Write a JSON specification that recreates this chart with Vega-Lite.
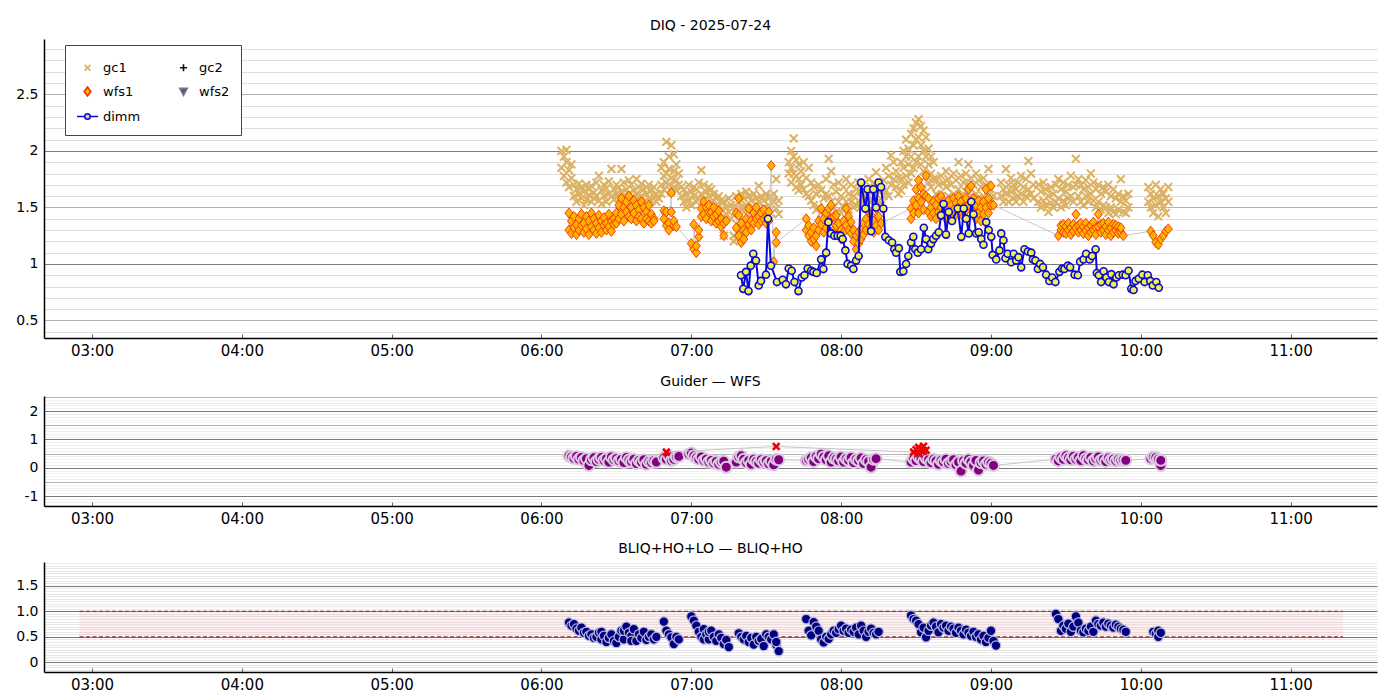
{
"$schema":"https://vega.github.io/schema/vega-lite/v6.json",
"background":"white",
"padding":{"left":5,"right":5,"top":19,"bottom":0},
"config":{"font":"DejaVu Sans","view":{"stroke":null},
 "axis":{"labelFont":"DejaVu Sans","labelFontSize":14,"labelColor":"black","domainColor":"black","domainWidth":1.5},
 "title":{"fontSize":14,"fontWeight":"normal","color":"black","font":"DejaVu Sans","frame":"group","anchor":"middle","offset":6},
 "concat":{"spacing":16}},
"resolve":{"scale":{"x":"independent","y":"independent"}},
"datasets":{
"gc1":[
{"t":"6:08","v":2.0},{"t":"6:08","v":1.85},{"t":"6:09","v":1.95},{"t":"6:09","v":1.78},{"t":"6:10","v":1.9},{"t":"6:10","v":1.72},{"t":"6:10","v":2.01},{"t":"6:11","v":1.83},{"t":"6:11","v":1.68},{"t":"6:12","v":1.76},{"t":"6:12","v":1.88},{"t":"6:13","v":1.7},{"t":"6:13","v":1.6},{"t":"6:14","v":1.66},{"t":"6:14","v":1.55},{"t":"6:15","v":1.62},{"t":"6:15","v":1.71},{"t":"6:16","v":1.58},{"t":"6:16","v":1.68},{"t":"6:17","v":1.64},{"t":"6:17","v":1.52},{"t":"6:18","v":1.7},{"t":"6:18","v":1.57},{"t":"6:19","v":1.61},{"t":"6:19","v":1.66},{"t":"6:20","v":1.55},{"t":"6:20","v":1.69},{"t":"6:21","v":1.63},{"t":"6:21","v":1.58},{"t":"6:22","v":1.72},{"t":"6:22","v":1.6},{"t":"6:23","v":1.78},{"t":"6:23","v":1.56},{"t":"6:24","v":1.65},{"t":"6:24","v":1.53},{"t":"6:25","v":1.6},{"t":"6:25","v":1.7},{"t":"6:26","v":1.67},{"t":"6:26","v":1.55},{"t":"6:27","v":1.73},{"t":"6:27","v":1.62},{"t":"6:28","v":1.84},{"t":"6:28","v":1.6},{"t":"6:29","v":1.66},{"t":"6:29","v":1.57},{"t":"6:30","v":1.62},{"t":"6:30","v":1.7},{"t":"6:31","v":1.68},{"t":"6:31","v":1.58},{"t":"6:32","v":1.84},{"t":"6:32","v":1.64},{"t":"6:33","v":1.72},{"t":"6:33","v":1.6},{"t":"6:34","v":1.66},{"t":"6:34","v":1.56},{"t":"6:35","v":1.62},{"t":"6:35","v":1.74},{"t":"6:36","v":1.7},{"t":"6:36","v":1.59},{"t":"6:37","v":1.65},{"t":"6:37","v":1.55},{"t":"6:38","v":1.75},{"t":"6:38","v":1.62},{"t":"6:39","v":1.68},{"t":"6:39","v":1.58},{"t":"6:40","v":1.6},{"t":"6:40","v":1.71},{"t":"6:41","v":1.66},{"t":"6:41","v":1.55},{"t":"6:42","v":1.62},{"t":"6:42","v":1.68},{"t":"6:43","v":1.58},{"t":"6:43","v":1.7},{"t":"6:44","v":1.65},{"t":"6:44","v":1.56},{"t":"6:45","v":1.6},{"t":"6:45","v":1.68},{"t":"6:46","v":1.62},{"t":"6:46","v":1.55},{"t":"6:47","v":1.58},
{"t":"6:48","v":1.7},{"t":"6:48","v":1.85},{"t":"6:48","v":1.62},{"t":"6:49","v":1.78},{"t":"6:49","v":1.9},{"t":"6:49","v":1.66},{"t":"6:50","v":2.08},{"t":"6:50","v":1.8},{"t":"6:50","v":1.72},{"t":"6:51","v":1.95},{"t":"6:51","v":1.84},{"t":"6:51","v":1.7},{"t":"6:52","v":2.05},{"t":"6:52","v":1.76},{"t":"6:52","v":1.64},{"t":"6:53","v":1.97},{"t":"6:53","v":1.82},{"t":"6:53","v":1.68},{"t":"6:54","v":1.88},{"t":"6:54","v":1.74},{"t":"6:54","v":1.65},{"t":"6:55","v":1.8},{"t":"6:55","v":1.7},
{"t":"6:56","v":1.6},{"t":"6:56","v":1.68},{"t":"6:57","v":1.55},{"t":"6:57","v":1.66},{"t":"6:58","v":1.62},{"t":"6:58","v":1.5},{"t":"6:59","v":1.7},{"t":"6:59","v":1.57},{"t":"7:00","v":1.64},{"t":"7:00","v":1.52},{"t":"7:01","v":1.6},{"t":"7:01","v":1.68},{"t":"7:02","v":1.66},{"t":"7:02","v":1.55},{"t":"7:03","v":1.72},{"t":"7:03","v":1.58},{"t":"7:04","v":1.83},{"t":"7:04","v":1.62},{"t":"7:05","v":1.7},{"t":"7:05","v":1.57},{"t":"7:06","v":1.64},{"t":"7:06","v":1.52},{"t":"7:07","v":1.6},{"t":"7:07","v":1.68},{"t":"7:08","v":1.55},{"t":"7:08","v":1.66},{"t":"7:09","v":1.62},{"t":"7:09","v":1.5},{"t":"7:10","v":1.58},{"t":"7:10","v":1.46},{"t":"7:11","v":1.6},{"t":"7:11","v":1.52},{"t":"7:12","v":1.48},{"t":"7:12","v":1.56},{"t":"7:13","v":1.55},{"t":"7:13","v":1.42},{"t":"7:13","v":1.25},{"t":"7:14","v":1.5},{"t":"7:14","v":1.44},{"t":"7:15","v":1.58},{"t":"7:15","v":1.46},{"t":"7:16","v":1.52},{"t":"7:16","v":1.4},{"t":"7:17","v":1.25},{"t":"7:17","v":1.2},
{"t":"7:18","v":1.5},{"t":"7:18","v":1.6},{"t":"7:18","v":1.22},{"t":"7:19","v":1.55},{"t":"7:19","v":1.45},{"t":"7:20","v":1.62},{"t":"7:20","v":1.5},{"t":"7:21","v":1.58},{"t":"7:21","v":1.46},{"t":"7:22","v":1.52},{"t":"7:22","v":1.64},{"t":"7:23","v":1.6},{"t":"7:23","v":1.48},{"t":"7:24","v":1.56},{"t":"7:24","v":1.44},{"t":"7:25","v":1.62},{"t":"7:25","v":1.5},{"t":"7:26","v":1.58},{"t":"7:26","v":1.52},{"t":"7:27","v":1.69},{"t":"7:27","v":1.55},{"t":"7:28","v":1.6},{"t":"7:28","v":1.47},{"t":"7:29","v":1.56},{"t":"7:29","v":1.5},{"t":"7:30","v":1.62},{"t":"7:30","v":1.46},{"t":"7:31","v":1.58},{"t":"7:31","v":1.52},{"t":"7:32","v":1.6},{"t":"7:32","v":1.45},{"t":"7:33","v":1.55},{"t":"7:33","v":1.62},{"t":"7:34","v":1.75},{"t":"7:34","v":1.49},{"t":"7:35","v":1.56},{"t":"7:35","v":1.44},
{"t":"7:39","v":1.9},{"t":"7:39","v":1.8},{"t":"7:40","v":2.0},{"t":"7:40","v":1.85},{"t":"7:40","v":1.72},{"t":"7:41","v":2.11},{"t":"7:41","v":1.95},{"t":"7:41","v":1.8},{"t":"7:42","v":1.92},{"t":"7:42","v":1.78},{"t":"7:42","v":1.68},{"t":"7:43","v":1.88},{"t":"7:43","v":1.75},{"t":"7:43","v":1.65},{"t":"7:44","v":1.82},{"t":"7:44","v":1.7},{"t":"7:45","v":1.9},{"t":"7:45","v":1.66},{"t":"7:46","v":1.76},{"t":"7:46","v":1.62},{"t":"7:47","v":1.85},{"t":"7:47","v":1.6},{"t":"7:48","v":1.72},{"t":"7:48","v":1.56},{"t":"7:49","v":1.68},{"t":"7:49","v":1.52},{"t":"7:50","v":1.62},{"t":"7:50","v":1.48},{"t":"7:51","v":1.7},{"t":"7:51","v":1.5},{"t":"7:52","v":1.65},{"t":"7:52","v":1.45},{"t":"7:53","v":1.58},{"t":"7:53","v":1.42},{"t":"7:54","v":1.62},{"t":"7:54","v":1.75},{"t":"7:55","v":1.93},{"t":"7:55","v":1.6},{"t":"7:56","v":1.82},{"t":"7:56","v":1.55},{"t":"7:57","v":1.7},{"t":"7:57","v":1.5},{"t":"7:58","v":1.64},{"t":"7:58","v":1.46},{"t":"7:59","v":1.72},{"t":"7:59","v":1.55},{"t":"8:00","v":1.6},{"t":"8:00","v":1.45},{"t":"8:01","v":1.68},{"t":"8:01","v":1.5},{"t":"8:02","v":1.75},{"t":"8:02","v":1.55},{"t":"8:03","v":1.62},{"t":"8:03","v":1.48},
{"t":"8:04","v":1.7},{"t":"8:04","v":1.55},{"t":"8:05","v":1.6},{"t":"8:05","v":1.5},{"t":"8:06","v":1.66},{"t":"8:06","v":1.52},{"t":"8:07","v":1.72},{"t":"8:07","v":1.56},{"t":"8:08","v":1.64},{"t":"8:08","v":1.5},{"t":"8:09","v":1.7},{"t":"8:09","v":1.58},{"t":"8:10","v":1.62},{"t":"8:10","v":1.52},{"t":"8:11","v":1.75},{"t":"8:11","v":1.6},{"t":"8:12","v":1.68},{"t":"8:12","v":1.55},{"t":"8:13","v":1.72},{"t":"8:13","v":1.6},{"t":"8:14","v":1.81},{"t":"8:14","v":1.62},{"t":"8:15","v":1.7},{"t":"8:15","v":1.56},{"t":"8:16","v":1.66},{"t":"8:16","v":1.52},{"t":"8:17","v":1.74},{"t":"8:17","v":1.6},{"t":"8:18","v":1.85},{"t":"8:18","v":1.65},{"t":"8:19","v":1.78},{"t":"8:19","v":1.6},{"t":"8:20","v":1.96},{"t":"8:20","v":1.7},{"t":"8:21","v":1.9},{"t":"8:21","v":1.75},{"t":"8:22","v":1.82},{"t":"8:22","v":1.68},{"t":"8:23","v":1.76},{"t":"8:23","v":1.62},
{"t":"8:24","v":1.75},{"t":"8:24","v":1.9},{"t":"8:24","v":1.65},{"t":"8:25","v":1.85},{"t":"8:25","v":2.0},{"t":"8:25","v":1.7},{"t":"8:26","v":1.95},{"t":"8:26","v":2.1},{"t":"8:26","v":1.78},{"t":"8:27","v":2.02},{"t":"8:27","v":1.88},{"t":"8:27","v":1.72},{"t":"8:28","v":2.15},{"t":"8:28","v":1.95},{"t":"8:28","v":1.8},{"t":"8:29","v":2.2},{"t":"8:29","v":2.05},{"t":"8:29","v":1.85},{"t":"8:30","v":2.25},{"t":"8:30","v":2.1},{"t":"8:30","v":1.9},{"t":"8:31","v":2.28},{"t":"8:31","v":2.12},{"t":"8:31","v":1.95},{"t":"8:32","v":2.22},{"t":"8:32","v":2.05},{"t":"8:32","v":1.88},{"t":"8:33","v":2.18},{"t":"8:33","v":2.0},{"t":"8:33","v":1.82},{"t":"8:34","v":2.12},{"t":"8:34","v":1.95},{"t":"8:34","v":1.78},{"t":"8:35","v":2.02},{"t":"8:35","v":1.88},{"t":"8:35","v":1.72},{"t":"8:36","v":1.95},{"t":"8:36","v":1.8},{"t":"8:36","v":1.68},{"t":"8:37","v":1.9},{"t":"8:37","v":1.75},
{"t":"8:38","v":1.75},{"t":"8:38","v":1.62},{"t":"8:39","v":1.7},{"t":"8:39","v":1.58},{"t":"8:40","v":1.78},{"t":"8:40","v":1.6},{"t":"8:41","v":1.72},{"t":"8:41","v":1.55},{"t":"8:42","v":1.68},{"t":"8:42","v":1.82},{"t":"8:43","v":1.75},{"t":"8:43","v":1.6},{"t":"8:44","v":1.7},{"t":"8:44","v":1.56},{"t":"8:45","v":1.8},{"t":"8:45","v":1.62},{"t":"8:46","v":1.74},{"t":"8:46","v":1.58},{"t":"8:47","v":1.9},{"t":"8:47","v":1.66},{"t":"8:48","v":1.78},{"t":"8:48","v":1.6},{"t":"8:49","v":1.72},{"t":"8:49","v":1.56},{"t":"8:50","v":1.8},{"t":"8:50","v":1.64},{"t":"8:51","v":1.88},{"t":"8:51","v":1.7},{"t":"8:52","v":1.76},{"t":"8:52","v":1.6},{"t":"8:53","v":1.7},{"t":"8:53","v":1.55},{"t":"8:54","v":1.8},{"t":"8:54","v":1.62},{"t":"8:55","v":1.74},{"t":"8:55","v":1.58},{"t":"8:56","v":1.68},{"t":"8:56","v":1.55},{"t":"8:57","v":1.76},{"t":"8:57","v":1.6},{"t":"8:58","v":1.7},{"t":"8:58","v":1.52},{"t":"8:59","v":1.84},{"t":"8:59","v":1.6},{"t":"9:00","v":1.66},{"t":"9:00","v":1.55},{"t":"9:01","v":1.6},
{"t":"9:04","v":1.6},{"t":"9:04","v":1.72},{"t":"9:05","v":1.66},{"t":"9:05","v":1.55},{"t":"9:06","v":1.84},{"t":"9:06","v":1.62},{"t":"9:07","v":1.7},{"t":"9:07","v":1.55},{"t":"9:08","v":1.64},{"t":"9:08","v":1.76},{"t":"9:09","v":1.58},{"t":"9:09","v":1.7},{"t":"9:10","v":1.66},{"t":"9:10","v":1.55},{"t":"9:11","v":1.72},{"t":"9:11","v":1.6},{"t":"9:12","v":1.62},{"t":"9:12","v":1.78},{"t":"9:13","v":1.68},{"t":"9:13","v":1.55},{"t":"9:14","v":1.75},{"t":"9:14","v":1.6},{"t":"9:15","v":1.91},{"t":"9:15","v":1.66},{"t":"9:16","v":1.8},{"t":"9:16","v":1.62},{"t":"9:17","v":1.7},{"t":"9:17","v":1.58},
{"t":"9:19","v":1.7},{"t":"9:19","v":1.55},{"t":"9:20","v":1.64},{"t":"9:20","v":1.5},{"t":"9:21","v":1.72},{"t":"9:21","v":1.56},{"t":"9:22","v":1.66},{"t":"9:22","v":1.52},{"t":"9:23","v":1.6},{"t":"9:23","v":1.46},{"t":"9:24","v":1.68},{"t":"9:24","v":1.54},{"t":"9:25","v":1.62},{"t":"9:25","v":1.5},{"t":"9:26","v":1.7},{"t":"9:26","v":1.55},{"t":"9:27","v":1.75},{"t":"9:27","v":1.58},{"t":"9:28","v":1.66},{"t":"9:28","v":1.5},{"t":"9:29","v":1.72},{"t":"9:29","v":1.56},{"t":"9:30","v":1.64},{"t":"9:30","v":1.52},{"t":"9:31","v":1.7},{"t":"9:31","v":1.58},{"t":"9:32","v":1.78},{"t":"9:32","v":1.6},{"t":"9:33","v":1.68},{"t":"9:33","v":1.55},{"t":"9:34","v":1.93},{"t":"9:34","v":1.7},{"t":"9:35","v":1.75},{"t":"9:35","v":1.6},{"t":"9:36","v":1.7},{"t":"9:36","v":1.55},{"t":"9:37","v":1.66},{"t":"9:37","v":1.52},{"t":"9:38","v":1.74},{"t":"9:38","v":1.6},{"t":"9:39","v":1.68},{"t":"9:39","v":1.55},{"t":"9:40","v":1.8},{"t":"9:40","v":1.62},{"t":"9:41","v":1.72},{"t":"9:41","v":1.56},{"t":"9:42","v":1.66},{"t":"9:42","v":1.5},{"t":"9:43","v":1.7},{"t":"9:43","v":1.55},{"t":"9:44","v":1.62},{"t":"9:44","v":1.48},{"t":"9:45","v":1.68},{"t":"9:45","v":1.52},{"t":"9:46","v":1.64},{"t":"9:46","v":1.5},{"t":"9:47","v":1.7},{"t":"9:47","v":1.45},{"t":"9:48","v":1.6},{"t":"9:48","v":1.5},{"t":"9:49","v":1.66},{"t":"9:49","v":1.46},{"t":"9:50","v":1.58},{"t":"9:50","v":1.44},{"t":"9:51","v":1.62},{"t":"9:51","v":1.48},{"t":"9:52","v":1.75},{"t":"9:52","v":1.55},{"t":"9:53","v":1.6},{"t":"9:53","v":1.46},{"t":"9:54","v":1.56},{"t":"9:54","v":1.45},{"t":"9:55","v":1.62},{"t":"9:55","v":1.5},
{"t":"10:03","v":1.55},{"t":"10:03","v":1.68},{"t":"10:04","v":1.5},{"t":"10:04","v":1.62},{"t":"10:05","v":1.58},{"t":"10:05","v":1.45},{"t":"10:06","v":1.52},{"t":"10:06","v":1.7},{"t":"10:07","v":1.6},{"t":"10:07","v":1.42},{"t":"10:08","v":1.55},{"t":"10:08","v":1.66},{"t":"10:09","v":1.5},{"t":"10:09","v":1.62},{"t":"10:10","v":1.58},{"t":"10:10","v":1.45},{"t":"10:11","v":1.55},{"t":"10:11","v":1.68}
],
"wfs1":[
{"t":"6:11","v":1.45},{"t":"6:11","v":1.3},{"t":"6:12","v":1.38},{"t":"6:12","v":1.27},{"t":"6:13","v":1.42},{"t":"6:13","v":1.32},{"t":"6:14","v":1.35},{"t":"6:14","v":1.26},{"t":"6:15","v":1.4},{"t":"6:15","v":1.3},{"t":"6:16","v":1.44},{"t":"6:16","v":1.34},{"t":"6:17","v":1.36},{"t":"6:17","v":1.28},{"t":"6:18","v":1.42},{"t":"6:18","v":1.31},{"t":"6:19","v":1.38},{"t":"6:19","v":1.26},{"t":"6:20","v":1.45},{"t":"6:20","v":1.33},{"t":"6:21","v":1.4},{"t":"6:21","v":1.3},{"t":"6:22","v":1.36},{"t":"6:22","v":1.27},{"t":"6:23","v":1.43},{"t":"6:23","v":1.32},{"t":"6:24","v":1.38},{"t":"6:24","v":1.28},{"t":"6:25","v":1.41},{"t":"6:25","v":1.34},{"t":"6:26","v":1.36},{"t":"6:26","v":1.3},{"t":"6:27","v":1.44},{"t":"6:27","v":1.33},{"t":"6:28","v":1.38},{"t":"6:28","v":1.29},{"t":"6:29","v":1.4},{"t":"6:29","v":1.35},
{"t":"6:30","v":1.45},{"t":"6:30","v":1.36},{"t":"6:31","v":1.52},{"t":"6:31","v":1.4},{"t":"6:32","v":1.58},{"t":"6:32","v":1.44},{"t":"6:33","v":1.5},{"t":"6:33","v":1.38},{"t":"6:34","v":1.55},{"t":"6:34","v":1.46},{"t":"6:35","v":1.6},{"t":"6:35","v":1.42},{"t":"6:36","v":1.5},{"t":"6:36","v":1.4},{"t":"6:37","v":1.56},{"t":"6:37","v":1.45},{"t":"6:38","v":1.52},{"t":"6:38","v":1.38},{"t":"6:39","v":1.48},{"t":"6:39","v":1.42},{"t":"6:40","v":1.55},{"t":"6:40","v":1.4},{"t":"6:41","v":1.5},{"t":"6:41","v":1.36},{"t":"6:42","v":1.46},{"t":"6:42","v":1.4},{"t":"6:43","v":1.52},{"t":"6:43","v":1.38},{"t":"6:44","v":1.44},{"t":"6:44","v":1.36},{"t":"6:45","v":1.4},{"t":"6:45","v":1.38},
{"t":"6:49","v":1.47},{"t":"6:49","v":1.4},{"t":"6:50","v":1.34},{"t":"6:50","v":1.46},{"t":"6:51","v":1.36},{"t":"6:51","v":1.3},{"t":"6:52","v":1.63},{"t":"6:52","v":1.46},{"t":"6:53","v":1.34},{"t":"6:53","v":1.38},{"t":"6:54","v":1.33},
{"t":"7:00","v":1.18},{"t":"7:01","v":1.13},{"t":"7:01","v":1.35},{"t":"7:02","v":1.1},{"t":"7:02","v":1.16},{"t":"7:03","v":1.24},{"t":"7:03","v":1.3},{"t":"7:04","v":1.42},{"t":"7:04","v":1.49},{"t":"7:05","v":1.55},{"t":"7:05","v":1.44},{"t":"7:06","v":1.5},{"t":"7:06","v":1.4},{"t":"7:07","v":1.46},{"t":"7:07","v":1.52},{"t":"7:08","v":1.46},{"t":"7:08","v":1.38},{"t":"7:09","v":1.42},{"t":"7:09","v":1.5},{"t":"7:10","v":1.44},{"t":"7:10","v":1.36},{"t":"7:11","v":1.47},{"t":"7:11","v":1.38},{"t":"7:12","v":1.4},{"t":"7:12","v":1.33},{"t":"7:13","v":1.25},{"t":"7:13","v":1.36},{"t":"7:14","v":1.38},
{"t":"7:18","v":1.45},{"t":"7:18","v":1.32},{"t":"7:19","v":1.58},{"t":"7:19","v":1.43},{"t":"7:19","v":1.25},{"t":"7:20","v":1.36},{"t":"7:20","v":1.19},{"t":"7:21","v":1.3},{"t":"7:21","v":1.22},{"t":"7:22","v":1.4},{"t":"7:22","v":1.28},{"t":"7:23","v":1.49},{"t":"7:23","v":1.35},{"t":"7:24","v":1.38},{"t":"7:24","v":1.3},{"t":"7:25","v":1.45},{"t":"7:25","v":1.36},{"t":"7:26","v":1.5},{"t":"7:26","v":1.4},{"t":"7:27","v":1.35},{"t":"7:27","v":1.42},{"t":"7:28","v":1.45},{"t":"7:28","v":1.38},{"t":"7:29","v":1.4},{"t":"7:29","v":1.48},{"t":"7:30","v":1.42},{"t":"7:30","v":1.36},{"t":"7:31","v":1.46},{"t":"7:31","v":1.38},{"t":"7:32","v":1.87},{"t":"7:33","v":1.02},{"t":"7:34","v":1.28},{"t":"7:34","v":1.19},
{"t":"7:46","v":1.4},{"t":"7:46","v":1.3},{"t":"7:47","v":1.34},{"t":"7:47","v":1.25},{"t":"7:48","v":1.28},{"t":"7:48","v":1.2},{"t":"7:49","v":1.22},{"t":"7:49","v":1.32},{"t":"7:50","v":1.16},{"t":"7:50","v":1.25},{"t":"7:51","v":1.3},{"t":"7:51","v":1.38},{"t":"7:52","v":1.49},{"t":"7:52","v":1.35},{"t":"7:53","v":1.4},{"t":"7:53","v":1.28},{"t":"7:54","v":1.45},{"t":"7:54","v":1.32},{"t":"7:55","v":1.49},{"t":"7:55","v":1.38},{"t":"7:56","v":1.52},{"t":"7:56","v":1.4},{"t":"7:57","v":1.42},{"t":"7:57","v":1.3},{"t":"7:58","v":1.43},{"t":"7:58","v":1.34},{"t":"7:59","v":1.36},{"t":"7:59","v":1.26},{"t":"8:00","v":1.3},{"t":"8:00","v":1.22},{"t":"8:01","v":1.38},{"t":"8:01","v":1.28},{"t":"8:02","v":1.49},{"t":"8:02","v":1.34},{"t":"8:03","v":1.42},{"t":"8:03","v":1.3},{"t":"8:04","v":1.37},{"t":"8:04","v":1.27},{"t":"8:05","v":1.3},{"t":"8:05","v":1.2},{"t":"8:06","v":1.25},{"t":"8:06","v":1.13},{"t":"8:07","v":1.18},{"t":"8:07","v":1.28},{"t":"8:08","v":1.31},{"t":"8:08","v":1.22},{"t":"8:09","v":1.36},{"t":"8:09","v":1.26},{"t":"8:10","v":1.4},{"t":"8:10","v":1.3},{"t":"8:11","v":1.46},{"t":"8:11","v":1.35},{"t":"8:12","v":1.43},{"t":"8:12","v":1.32},{"t":"8:13","v":1.38},{"t":"8:13","v":1.28},{"t":"8:14","v":1.34},{"t":"8:14","v":1.49},{"t":"8:15","v":1.42},{"t":"8:15","v":1.3},{"t":"8:16","v":1.36},
{"t":"8:28","v":1.49},{"t":"8:28","v":1.4},{"t":"8:29","v":1.56},{"t":"8:29","v":1.45},{"t":"8:30","v":1.66},{"t":"8:30","v":1.52},{"t":"8:31","v":1.74},{"t":"8:31","v":1.58},{"t":"8:31","v":1.45},{"t":"8:32","v":1.68},{"t":"8:32","v":1.55},{"t":"8:33","v":1.62},{"t":"8:33","v":1.48},{"t":"8:34","v":1.78},{"t":"8:34","v":1.6},{"t":"8:35","v":1.58},{"t":"8:35","v":1.46},{"t":"8:36","v":1.5},{"t":"8:36","v":1.42},{"t":"8:37","v":1.55},{"t":"8:37","v":1.45},{"t":"8:38","v":1.52},{"t":"8:38","v":1.4},{"t":"8:39","v":1.58},{"t":"8:39","v":1.46},{"t":"8:40","v":1.6},{"t":"8:40","v":1.5},{"t":"8:41","v":1.55},{"t":"8:41","v":1.44},{"t":"8:42","v":1.5},{"t":"8:42","v":1.4},{"t":"8:43","v":1.56},{"t":"8:43","v":1.45},{"t":"8:44","v":1.52},{"t":"8:44","v":1.42},{"t":"8:45","v":1.58},{"t":"8:45","v":1.48},{"t":"8:46","v":1.54},{"t":"8:46","v":1.44},{"t":"8:47","v":1.6},{"t":"8:47","v":1.5},{"t":"8:48","v":1.55},{"t":"8:48","v":1.45},{"t":"8:49","v":1.5},{"t":"8:49","v":1.42},{"t":"8:50","v":1.58},{"t":"8:50","v":1.47},{"t":"8:51","v":1.66},{"t":"8:51","v":1.52},{"t":"8:52","v":1.69},{"t":"8:52","v":1.55},{"t":"8:53","v":1.58},{"t":"8:53","v":1.46},{"t":"8:54","v":1.52},{"t":"8:54","v":1.4},{"t":"8:55","v":1.56},{"t":"8:55","v":1.45},{"t":"8:56","v":1.5},{"t":"8:56","v":1.38},{"t":"8:57","v":1.55},{"t":"8:57","v":1.44},{"t":"8:58","v":1.66},{"t":"8:58","v":1.5},{"t":"8:59","v":1.58},{"t":"8:59","v":1.45},{"t":"9:00","v":1.69},{"t":"9:00","v":1.52},{"t":"9:01","v":1.52},
{"t":"9:27","v":1.25},{"t":"9:28","v":1.3},{"t":"9:28","v":1.34},{"t":"9:29","v":1.28},{"t":"9:29","v":1.35},{"t":"9:30","v":1.33},{"t":"9:30","v":1.27},{"t":"9:31","v":1.36},{"t":"9:31","v":1.3},{"t":"9:32","v":1.32},{"t":"9:32","v":1.26},{"t":"9:33","v":1.35},{"t":"9:33","v":1.29},{"t":"9:34","v":1.44},{"t":"9:34","v":1.32},{"t":"9:35","v":1.34},{"t":"9:35","v":1.28},{"t":"9:36","v":1.3},{"t":"9:36","v":1.36},{"t":"9:37","v":1.33},{"t":"9:37","v":1.27},{"t":"9:38","v":1.36},{"t":"9:38","v":1.3},{"t":"9:39","v":1.32},{"t":"9:39","v":1.25},{"t":"9:40","v":1.34},{"t":"9:40","v":1.28},{"t":"9:41","v":1.37},{"t":"9:41","v":1.3},{"t":"9:42","v":1.32},{"t":"9:42","v":1.26},{"t":"9:43","v":1.44},{"t":"9:43","v":1.33},{"t":"9:44","v":1.35},{"t":"9:44","v":1.28},{"t":"9:45","v":1.3},{"t":"9:45","v":1.36},{"t":"9:46","v":1.33},{"t":"9:46","v":1.26},{"t":"9:47","v":1.37},{"t":"9:47","v":1.3},{"t":"9:48","v":1.32},{"t":"9:48","v":1.25},{"t":"9:49","v":1.35},{"t":"9:49","v":1.28},{"t":"9:50","v":1.3},{"t":"9:50","v":1.34},{"t":"9:51","v":1.33},{"t":"9:51","v":1.27},{"t":"9:52","v":1.28},{"t":"9:52","v":1.32},{"t":"9:53","v":1.25},
{"t":"10:04","v":1.29},{"t":"10:05","v":1.25},{"t":"10:06","v":1.19},{"t":"10:07","v":1.17},{"t":"10:08","v":1.22},{"t":"10:09","v":1.25},{"t":"10:10","v":1.29},{"t":"10:11","v":1.31}
],
"dimm":[
{"t":"7:19:54","v":0.9},{"t":"7:20:48","v":0.78},{"t":"7:21:54","v":0.93},{"t":"7:22:54","v":0.76},{"t":"7:23:48","v":0.985},{"t":"7:24:48","v":1.09},{"t":"7:25:54","v":1.03},{"t":"7:27:00","v":0.81},{"t":"7:27:54","v":0.85},{"t":"7:29:54","v":0.905},{"t":"7:30:42","v":1.4},{"t":"7:31:54","v":0.985},{"t":"7:34:18","v":0.84},{"t":"7:36:36","v":0.86},{"t":"7:37:54","v":0.82},{"t":"7:39:00","v":0.96},{"t":"7:40:12","v":0.94},{"t":"7:41:18","v":0.84},{"t":"7:42:54","v":0.76},{"t":"7:44:12","v":0.88},{"t":"7:45:18","v":0.9},{"t":"7:46:36","v":0.96},{"t":"7:48:00","v":0.94},{"t":"7:48:54","v":0.93},{"t":"7:50:12","v":0.92},{"t":"7:52:00","v":1.04},{"t":"7:52:54","v":0.955},{"t":"7:54:00","v":1.1},{"t":"7:54:54","v":1.37},{"t":"7:56:00","v":1.27},{"t":"7:57:18","v":1.25},{"t":"7:58:36","v":1.25},{"t":"7:59:48","v":1.25},{"t":"8:00:36","v":1.22},{"t":"8:01:42","v":1.12},{"t":"8:02:36","v":1.0},{"t":"8:04:00","v":0.985},{"t":"8:04:54","v":0.956},{"t":"8:06:00","v":1.03},{"t":"8:07:00","v":1.07},{"t":"8:08:00","v":1.72},{"t":"8:09:42","v":1.49},{"t":"8:10:36","v":1.66},{"t":"8:12:00","v":1.29},{"t":"8:12:54","v":1.66},{"t":"8:14:00","v":1.5},{"t":"8:15:00","v":1.72},{"t":"8:16:00","v":1.68},{"t":"8:16:54","v":1.49},{"t":"8:17:42","v":1.24},{"t":"8:19:06","v":1.21},{"t":"8:20:24","v":1.19},{"t":"8:21:18","v":1.13},{"t":"8:22:00","v":1.1},{"t":"8:23:06","v":1.14},{"t":"8:23:42","v":0.93},{"t":"8:24:54","v":0.935},{"t":"8:26:00","v":1.0},{"t":"8:26:54","v":1.07},{"t":"8:28:00","v":1.19},{"t":"8:28:54","v":1.24},{"t":"8:29:42","v":1.13},{"t":"8:30:42","v":1.1},{"t":"8:32:00","v":1.13},{"t":"8:33:06","v":1.32},{"t":"8:34:00","v":1.22},{"t":"8:34:54","v":1.13},{"t":"8:36:00","v":1.18},{"t":"8:36:54","v":1.22},{"t":"8:38:00","v":1.25},{"t":"8:39:06","v":1.28},{"t":"8:40:00","v":1.43},{"t":"8:41:00","v":1.53},{"t":"8:42:00","v":1.26},{"t":"8:43:06","v":1.46},{"t":"8:44:24","v":1.38},{"t":"8:46:42","v":1.49},{"t":"8:48:06","v":1.24},{"t":"8:49:06","v":1.49},{"t":"8:50:06","v":1.4},{"t":"8:51:06","v":1.27},{"t":"8:52:06","v":1.55},{"t":"8:53:00","v":1.44},{"t":"8:54:06","v":1.27},{"t":"8:55:06","v":1.28},{"t":"8:56:06","v":1.22},{"t":"8:57:00","v":1.17},{"t":"8:58:06","v":1.37},{"t":"8:59:06","v":1.3},{"t":"9:00:06","v":1.24},{"t":"9:00:42","v":1.08},{"t":"9:02:06","v":1.04},{"t":"9:03:24","v":1.12},{"t":"9:04:06","v":1.27},{"t":"9:05:00","v":1.21},{"t":"9:05:48","v":1.05},{"t":"9:06:42","v":1.09},{"t":"9:08:06","v":1.015},{"t":"9:09:06","v":1.09},{"t":"9:10:06","v":1.03},{"t":"9:11:00","v":1.06},{"t":"9:12:06","v":0.97},{"t":"9:13:24","v":1.13},{"t":"9:14:48","v":1.11},{"t":"9:16:06","v":1.1},{"t":"9:16:48","v":1.04},{"t":"9:17:48","v":1.03},{"t":"9:18:48","v":0.956},{"t":"9:19:42","v":1.0},{"t":"9:20:48","v":0.97},{"t":"9:22:06","v":0.905},{"t":"9:23:24","v":0.85},{"t":"9:24:30","v":0.88},{"t":"9:25:48","v":0.84},{"t":"9:27:24","v":0.93},{"t":"9:28:30","v":0.96},{"t":"9:29:24","v":0.956},{"t":"9:30:48","v":0.985},{"t":"9:31:42","v":0.97},{"t":"9:33:30","v":0.905},{"t":"9:34:48","v":0.9},{"t":"9:35:42","v":1.02},{"t":"9:37:06","v":1.04},{"t":"9:38:06","v":1.09},{"t":"9:39:30","v":1.04},{"t":"9:40:30","v":1.07},{"t":"9:41:54","v":1.13},{"t":"9:42:24","v":0.92},{"t":"9:43:12","v":0.9},{"t":"9:44:06","v":0.84},{"t":"9:45:06","v":0.935},{"t":"9:46:12","v":0.88},{"t":"9:47:12","v":0.84},{"t":"9:48:12","v":0.91},{"t":"9:49:06","v":0.82},{"t":"9:50:12","v":0.88},{"t":"9:51:12","v":0.9},{"t":"9:52:48","v":0.905},{"t":"9:53:54","v":0.9},{"t":"9:55:06","v":0.94},{"t":"9:56:12","v":0.78},{"t":"9:57:06","v":0.77},{"t":"9:57:54","v":0.85},{"t":"9:59:12","v":0.87},{"t":"10:00:36","v":0.905},{"t":"10:01:30","v":0.84},{"t":"10:02:48","v":0.9},{"t":"10:03:48","v":0.85},{"t":"10:04:48","v":0.81},{"t":"10:06:12","v":0.84},{"t":"10:07:12","v":0.79}
],
"gw":[
{"t":"6:11","v":0.42},{"t":"6:12","v":0.38},{"t":"6:13","v":0.33},{"t":"6:14","v":0.4},{"t":"6:15","v":0.3},{"t":"6:16","v":0.36},{"t":"6:17","v":0.25},{"t":"6:18","v":0.32},{"t":"6:19","v":0.08},{"t":"6:20","v":0.28},{"t":"6:21","v":0.35},{"t":"6:22","v":0.22},{"t":"6:23","v":0.3},{"t":"6:24","v":0.36},{"t":"6:25","v":0.26},{"t":"6:26","v":0.32},{"t":"6:27","v":0.2},{"t":"6:28","v":0.38},{"t":"6:29","v":0.28},{"t":"6:30","v":0.33},{"t":"6:31","v":0.24},{"t":"6:32","v":0.3},{"t":"6:33","v":0.18},{"t":"6:34","v":0.36},{"t":"6:35","v":0.27},{"t":"6:36","v":0.22},{"t":"6:37","v":0.3},{"t":"6:38","v":0.15},{"t":"6:39","v":0.26},{"t":"6:40","v":0.2},{"t":"6:41","v":0.28},{"t":"6:42","v":0.12},{"t":"6:43","v":0.22},{"t":"6:44","v":0.18},{"t":"6:45","v":0.25},{"t":"6:46","v":0.2},
{"t":"6:49","v":0.35},{"t":"6:50","v":0.3},{"t":"6:51","v":0.42},{"t":"6:52","v":0.25},{"t":"6:53","v":0.3},{"t":"6:54","v":0.38},{"t":"6:55","v":0.4},
{"t":"6:59","v":0.48},{"t":"7:00","v":0.52},{"t":"7:01","v":0.42},{"t":"7:02","v":0.35},{"t":"7:03","v":0.3},{"t":"7:04","v":0.38},{"t":"7:05","v":0.25},{"t":"7:06","v":0.3},{"t":"7:07","v":0.2},{"t":"7:08","v":0.26},{"t":"7:09","v":0.16},{"t":"7:10","v":0.22},{"t":"7:11","v":0.12},{"t":"7:12","v":0.2},{"t":"7:13","v":0.23},{"t":"7:14","v":0.02},
{"t":"7:18","v":0.2},{"t":"7:19","v":0.38},{"t":"7:20","v":0.42},{"t":"7:21","v":0.3},{"t":"7:22","v":0.18},{"t":"7:23","v":0.26},{"t":"7:24","v":0.12},{"t":"7:25","v":0.3},{"t":"7:26","v":0.22},{"t":"7:27","v":0.16},{"t":"7:28","v":0.28},{"t":"7:29","v":0.2},{"t":"7:30","v":0.25},{"t":"7:31","v":0.14},{"t":"7:32","v":0.22},{"t":"7:33","v":0.1},{"t":"7:34","v":0.3},{"t":"7:35","v":0.28},
{"t":"7:46","v":0.26},{"t":"7:47","v":0.3},{"t":"7:48","v":0.35},{"t":"7:49","v":0.22},{"t":"7:50","v":0.4},{"t":"7:51","v":0.32},{"t":"7:52","v":0.48},{"t":"7:53","v":0.38},{"t":"7:54","v":0.28},{"t":"7:55","v":0.42},{"t":"7:56","v":0.2},{"t":"7:57","v":0.35},{"t":"7:58","v":0.3},{"t":"7:59","v":0.24},{"t":"8:00","v":0.38},{"t":"8:01","v":0.2},{"t":"8:02","v":0.32},{"t":"8:03","v":0.26},{"t":"8:04","v":0.36},{"t":"8:05","v":0.18},{"t":"8:06","v":0.3},{"t":"8:07","v":0.25},{"t":"8:08","v":0.34},{"t":"8:09","v":0.15},{"t":"8:10","v":0.28},{"t":"8:11","v":0.22},{"t":"8:12","v":0.02},{"t":"8:13","v":0.3},{"t":"8:14","v":0.32},
{"t":"8:28","v":0.2},{"t":"8:29","v":0.32},{"t":"8:30","v":0.25},{"t":"8:31","v":0.38},{"t":"8:32","v":0.3},{"t":"8:33","v":0.22},{"t":"8:34","v":0.34},{"t":"8:35","v":0.28},{"t":"8:36","v":0.18},{"t":"8:37","v":0.3},{"t":"8:38","v":0.24},{"t":"8:39","v":0.12},{"t":"8:40","v":0.26},{"t":"8:41","v":0.2},{"t":"8:42","v":0.3},{"t":"8:43","v":0.15},{"t":"8:44","v":0.22},{"t":"8:45","v":0.28},{"t":"8:46","v":0.1},{"t":"8:47","v":0.2},{"t":"8:48","v":-0.12},{"t":"8:49","v":0.25},{"t":"8:50","v":0.16},{"t":"8:51","v":0.3},{"t":"8:52","v":0.2},{"t":"8:53","v":0.08},{"t":"8:54","v":0.26},{"t":"8:55","v":-0.08},{"t":"8:56","v":0.18},{"t":"8:57","v":0.24},{"t":"8:58","v":0.12},{"t":"8:59","v":0.2},{"t":"9:00","v":0.15},{"t":"9:01","v":0.08},
{"t":"9:26","v":0.3},{"t":"9:27","v":0.24},{"t":"9:28","v":0.36},{"t":"9:29","v":0.3},{"t":"9:30","v":0.42},{"t":"9:31","v":0.34},{"t":"9:32","v":0.28},{"t":"9:33","v":0.4},{"t":"9:34","v":0.3},{"t":"9:35","v":0.36},{"t":"9:36","v":0.25},{"t":"9:37","v":0.42},{"t":"9:38","v":0.32},{"t":"9:39","v":0.28},{"t":"9:40","v":0.36},{"t":"9:41","v":0.24},{"t":"9:42","v":0.32},{"t":"9:43","v":0.38},{"t":"9:44","v":0.26},{"t":"9:45","v":0.3},{"t":"9:46","v":0.22},{"t":"9:47","v":0.34},{"t":"9:48","v":0.27},{"t":"9:49","v":0.3},{"t":"9:50","v":0.24},{"t":"9:51","v":0.3},{"t":"9:52","v":0.26},{"t":"9:53","v":0.28},{"t":"9:54","v":0.26},
{"t":"10:04","v":0.32},{"t":"10:05","v":0.38},{"t":"10:06","v":0.36},{"t":"10:07","v":0.3},{"t":"10:08","v":0.08},{"t":"10:08","v":0.26}
],
"gx":[
{"t":"6:50","v":0.55},{"t":"7:34","v":0.75},{"t":"8:29","v":0.55},{"t":"8:30","v":0.64},{"t":"8:31","v":0.72},{"t":"8:31","v":0.5},{"t":"8:32","v":0.66},{"t":"8:33","v":0.58},{"t":"8:33","v":0.76},{"t":"8:34","v":0.62}
],
"bl":[
{"t":"6:11","v":0.78},{"t":"6:12","v":0.72},{"t":"6:13","v":0.75},{"t":"6:14","v":0.66},{"t":"6:15","v":0.62},{"t":"6:16","v":0.68},{"t":"6:17","v":0.58},{"t":"6:18","v":0.6},{"t":"6:19","v":0.52},{"t":"6:20","v":0.55},{"t":"6:21","v":0.48},{"t":"6:22","v":0.5},{"t":"6:23","v":0.58},{"t":"6:24","v":0.45},{"t":"6:24","v":0.6},{"t":"6:25","v":0.52},{"t":"6:26","v":0.4},{"t":"6:27","v":0.48},{"t":"6:28","v":0.55},{"t":"6:29","v":0.42},{"t":"6:30","v":0.38},{"t":"6:31","v":0.5},{"t":"6:32","v":0.62},{"t":"6:33","v":0.45},{"t":"6:33","v":0.62},{"t":"6:34","v":0.7},{"t":"6:35","v":0.58},{"t":"6:36","v":0.52},{"t":"6:36","v":0.42},{"t":"6:37","v":0.65},{"t":"6:38","v":0.42},{"t":"6:39","v":0.55},{"t":"6:40","v":0.48},{"t":"6:41","v":0.6},{"t":"6:42","v":0.44},{"t":"6:43","v":0.5},{"t":"6:44","v":0.55},{"t":"6:45","v":0.45},{"t":"6:46","v":0.5},
{"t":"6:49","v":0.8},{"t":"6:50","v":0.62},{"t":"6:51","v":0.55},{"t":"6:52","v":0.49},{"t":"6:53","v":0.36},{"t":"6:54","v":0.5},{"t":"6:55","v":0.45},
{"t":"7:00","v":0.9},{"t":"7:01","v":0.82},{"t":"7:02","v":0.72},{"t":"7:03","v":0.6},{"t":"7:04","v":0.5},{"t":"7:05","v":0.65},{"t":"7:05","v":0.45},{"t":"7:06","v":0.55},{"t":"7:07","v":0.45},{"t":"7:07","v":0.6},{"t":"7:08","v":0.62},{"t":"7:09","v":0.5},{"t":"7:10","v":0.42},{"t":"7:11","v":0.55},{"t":"7:12","v":0.48},{"t":"7:13","v":0.36},{"t":"7:14","v":0.44},{"t":"7:15","v":0.3},
{"t":"7:19","v":0.57},{"t":"7:20","v":0.5},{"t":"7:21","v":0.45},{"t":"7:22","v":0.52},{"t":"7:23","v":0.4},{"t":"7:24","v":0.48},{"t":"7:25","v":0.35},{"t":"7:26","v":0.5},{"t":"7:27","v":0.42},{"t":"7:28","v":0.46},{"t":"7:29","v":0.32},{"t":"7:30","v":0.55},{"t":"7:31","v":0.5},{"t":"7:32","v":0.45},{"t":"7:33","v":0.55},{"t":"7:34","v":0.34},{"t":"7:34","v":0.4},{"t":"7:35","v":0.22},
{"t":"7:46","v":0.85},{"t":"7:47","v":0.62},{"t":"7:48","v":0.53},{"t":"7:49","v":0.79},{"t":"7:50","v":0.7},{"t":"7:51","v":0.62},{"t":"7:52","v":0.45},{"t":"7:53","v":0.39},{"t":"7:54","v":0.5},{"t":"7:55","v":0.46},{"t":"7:56","v":0.55},{"t":"7:57","v":0.62},{"t":"7:58","v":0.58},{"t":"7:59","v":0.65},{"t":"8:00","v":0.72},{"t":"8:01","v":0.62},{"t":"8:02","v":0.66},{"t":"8:03","v":0.58},{"t":"8:04","v":0.64},{"t":"8:05","v":0.6},{"t":"8:06","v":0.68},{"t":"8:07","v":0.55},{"t":"8:08","v":0.72},{"t":"8:09","v":0.62},{"t":"8:10","v":0.5},{"t":"8:11","v":0.6},{"t":"8:12","v":0.66},{"t":"8:13","v":0.58},{"t":"8:14","v":0.55},{"t":"8:15","v":0.6},
{"t":"8:28","v":0.92},{"t":"8:29","v":0.85},{"t":"8:30","v":0.82},{"t":"8:31","v":0.75},{"t":"8:32","v":0.59},{"t":"8:33","v":0.68},{"t":"8:34","v":0.49},{"t":"8:35","v":0.62},{"t":"8:36","v":0.72},{"t":"8:37","v":0.78},{"t":"8:38","v":0.7},{"t":"8:39","v":0.59},{"t":"8:40","v":0.75},{"t":"8:41","v":0.68},{"t":"8:42","v":0.72},{"t":"8:43","v":0.62},{"t":"8:44","v":0.7},{"t":"8:45","v":0.66},{"t":"8:46","v":0.58},{"t":"8:47","v":0.68},{"t":"8:48","v":0.62},{"t":"8:49","v":0.55},{"t":"8:50","v":0.64},{"t":"8:51","v":0.58},{"t":"8:52","v":0.52},{"t":"8:53","v":0.6},{"t":"8:54","v":0.5},{"t":"8:55","v":0.55},{"t":"8:56","v":0.45},{"t":"8:57","v":0.52},{"t":"8:58","v":0.4},{"t":"8:59","v":0.48},{"t":"9:00","v":0.62},{"t":"9:01","v":0.42},{"t":"9:02","v":0.33},
{"t":"9:26","v":0.95},{"t":"9:27","v":0.85},{"t":"9:28","v":0.62},{"t":"9:29","v":0.72},{"t":"9:30","v":0.66},{"t":"9:31","v":0.76},{"t":"9:32","v":0.6},{"t":"9:33","v":0.7},{"t":"9:34","v":0.9},{"t":"9:35","v":0.78},{"t":"9:36","v":0.62},{"t":"9:37","v":0.59},{"t":"9:38","v":0.66},{"t":"9:39","v":0.62},{"t":"9:40","v":0.7},{"t":"9:41","v":0.6},{"t":"9:42","v":0.82},{"t":"9:43","v":0.75},{"t":"9:44","v":0.72},{"t":"9:45","v":0.78},{"t":"9:46","v":0.7},{"t":"9:47","v":0.76},{"t":"9:48","v":0.72},{"t":"9:49","v":0.68},{"t":"9:50","v":0.74},{"t":"9:51","v":0.7},{"t":"9:52","v":0.66},{"t":"9:53","v":0.64},{"t":"9:54","v":0.6},
{"t":"10:05","v":0.6},{"t":"10:06","v":0.56},{"t":"10:07","v":0.62},{"t":"10:07","v":0.5},{"t":"10:08","v":0.58}
],
"band":[{"a":"2:55","b":"11:21","lo":0.5,"hi":1.0}],
"thr":[{"a":"2:55","b":"11:21","v":0.5},{"a":"2:55","b":"11:21","v":1.0}],
"leg":[{"s":"gc1","t":"6:00","v":1},{"s":"wfs1","t":"6:00","v":1},{"s":"dimm","t":"6:00","v":1},{"s":"gc2","t":"6:00","v":1},{"s":"wfs2","t":"6:00","v":1}]
},
"vconcat":[
{
 "width":1333,"height":299,
 "title":{"text":"DIQ - 2025-07-24"},
 "encoding":{
  "x":{"field":"t","type":"temporal","scale":{"domain":[{"year":1900,"month":1,"date":1,"hours":2,"minutes":40,"seconds":47},{"year":1900,"month":1,"date":1,"hours":11,"minutes":34,"seconds":35}]},
   "axis":{"title":null,"format":"%H:%M","tickCount":9,"grid":false,"tickSize":-4,"tickColor":"#666","labelPadding":9,"labelFontSize":15,"labelFlush":false,"labelOverlap":false}},
  "y":{"field":"v","type":"quantitative","scale":{"domain":[0.345,2.99],"nice":false,"zero":false},
   "axis":{"title":null,"values":[0.4,0.5,0.6,0.7,0.8,0.9,1,1.1,1.2,1.3,1.4,1.5,1.6,1.7,1.8,1.9,2,2.1,2.2,2.3,2.4,2.5,2.6,2.7,2.8,2.9],"ticks":false,"grid":true,"labelOverlap":false,"labelPadding":6,"minExtent":39,"maxExtent":39,
    "labelExpr":"abs(datum.value*2-round(datum.value*2))<0.001 ? format(datum.value,'~g') : ''",
    "gridColor":{"condition":{"test":"abs(datum.value-round(datum.value))<0.001","value":"#7a7a7a"},"value":"#b0b0b0"},
    "gridOpacity":{"condition":{"test":"abs(datum.value*2-round(datum.value*2))<0.001","value":1},"value":0.42}}}
 },
 "layer":[
  {"data":{"name":"gc1","format":{"parse":{"t":"date:'%H:%M'"}}},"mark":{"type":"point","shape":"M-1,-1L1,1M-1,1L1,-1","size":62,"stroke":"#dcb162","strokeWidth":2,"filled":false,"opacity":1}},
  {"data":{"name":"wfs1","format":{"parse":{"t":"date:'%H:%M'"}}},"mark":{"type":"line","stroke":"#c8c8c8","strokeWidth":1,
    "point":{"shape":"M0,-1L0.8,0L0,1L-0.8,0Z","size":100,"filled":true,"fill":"#ffb200","stroke":"#f03000","strokeWidth":0.9,"opacity":1}}},
  {"data":{"name":"dimm","format":{"parse":{"t":"date:'%H:%M:%S'"}}},"mark":{"type":"line","stroke":"#0a0ae0","strokeWidth":2,
    "point":{"shape":"circle","size":50,"filled":true,"fill":"#eeee55","stroke":"#0a0ad0","strokeWidth":1.6,"opacity":1}}},
  {"data":{"name":"leg","format":{"parse":{"t":"date:'%H:%M'"}}},"mark":{"type":"point","filled":true,"opacity":0},
   "encoding":{
    "shape":{"field":"s","type":"nominal","scale":{"domain":["gc1","wfs1","dimm","gc2","wfs2"],"range":["M-0.28,-0.28L0.28,0.28M-0.28,0.28L0.28,-0.28","M0,-0.42L0.32,0L0,0.42L-0.32,0Z","M-1,0L-0.26,0M0.26,0L1,0M-0.26,0A0.26,0.26 0 1,0 0.26,0A0.26,0.26 0 1,0 -0.26,0","M-0.34,0L0.34,0M0,-0.34L0,0.34","M-0.36,-0.3L0.36,-0.3L0,0.36Z"]},
     "legend":{"title":null,"orient":"none","legendX":21,"legendY":6,"columns":2,"strokeColor":"#444","fillColor":"white","padding":11,"symbolSize":441,"symbolStrokeWidth":1.6,"symbolOpacity":1,"labelFontSize":13,"labelFont":"DejaVu Sans","labelColor":"black","labelOffset":4,"rowPadding":5,"columnPadding":31}},
    "fill":{"field":"s","type":"nominal","scale":{"domain":["gc1","wfs1","dimm","gc2","wfs2"],"range":["transparent","#ffb200","#dde066","#111111","#555566"]},"legend":{"title":null}},
    "stroke":{"field":"s","type":"nominal","scale":{"domain":["gc1","wfs1","dimm","gc2","wfs2"],"range":["#dcb162","#f03000","#0a0ae0","#111111","#777788"]},"legend":{"title":null}}}}
 ]
},
{
 "width":1333,"height":110,
 "title":{"text":"Guider — WFS","dy":5},
 "encoding":{
  "x":{"field":"t","type":"temporal","scale":{"domain":[{"year":1900,"month":1,"date":1,"hours":2,"minutes":40,"seconds":47},{"year":1900,"month":1,"date":1,"hours":11,"minutes":34,"seconds":35}]},
   "axis":{"title":null,"format":"%H:%M","tickCount":9,"grid":false,"tickSize":-4,"tickColor":"#666","labelPadding":9,"labelFontSize":15,"labelFlush":false,"labelOverlap":false}},
  "y":{"field":"v","type":"quantitative","scale":{"domain":[-1.35,2.53],"nice":false,"zero":false},
   "axis":{"title":null,"values":[-1.3,-1.2,-1.1,-1,-0.9,-0.8,-0.7,-0.6,-0.5,-0.4,-0.3,-0.2,-0.1,0,0.1,0.2,0.3,0.4,0.5,0.6,0.7,0.8,0.9,1,1.1,1.2,1.3,1.4,1.5,1.6,1.7,1.8,1.9,2,2.1,2.2,2.3,2.4,2.5],"ticks":false,"grid":true,"labelOverlap":false,"labelPadding":6,"minExtent":39,"maxExtent":39,
    "labelExpr":"abs(datum.value-round(datum.value))<0.001 ? ''+round(datum.value) : ''",
    "gridColor":{"condition":{"test":"abs(datum.value-round(datum.value))<0.001","value":"#7a7a7a"},"value":"#b5b5b5"},
    "gridOpacity":{"condition":{"test":"abs(datum.value*2-round(datum.value*2))<0.001","value":1},"value":0.22}}}
 },
 "layer":[
  {"data":{"name":"gw","format":{"parse":{"t":"date:'%H:%M'"}}},"mark":{"type":"line","stroke":"#c4c4c4","strokeWidth":1,
    "point":{"shape":"circle","size":120,"filled":true,"fill":"#800080","stroke":"#dcc8e0","strokeWidth":2,"opacity":1}}},
  {"data":{"name":"gx","format":{"parse":{"t":"date:'%H:%M'"}}},"mark":{"type":"line","stroke":"#c4c4c4","strokeWidth":1,
    "point":{"shape":"M-1,-1L1,1M-1,1L1,-1","size":45,"filled":false,"stroke":"#ee0000","strokeWidth":2.6,"opacity":1}}}
 ]
},
{
 "width":1333,"height":110,
 "title":{"text":"BLIQ+HO+LO — BLIQ+HO","dy":6},
 "encoding":{
  "x":{"field":"t","type":"temporal","scale":{"domain":[{"year":1900,"month":1,"date":1,"hours":2,"minutes":40,"seconds":47},{"year":1900,"month":1,"date":1,"hours":11,"minutes":34,"seconds":35}]},
   "axis":{"title":null,"format":"%H:%M","tickCount":9,"grid":false,"tickSize":-4,"tickColor":"#666","labelPadding":9,"labelFontSize":15,"labelFlush":false,"labelOverlap":false}},
  "y":{"field":"v","type":"quantitative","scale":{"domain":[-0.19,1.97],"nice":false,"zero":false},
   "axis":{"title":null,"values":[-0.15,-0.1,-0.05,0,0.05,0.1,0.15,0.2,0.25,0.3,0.35,0.4,0.45,0.5,0.55,0.6,0.65,0.7,0.75,0.8,0.85,0.9,0.95,1,1.05,1.1,1.15,1.2,1.25,1.3,1.35,1.4,1.45,1.5,1.55,1.6,1.65,1.7,1.75,1.8,1.85,1.9,1.95],"ticks":false,"grid":true,"labelOverlap":false,"labelPadding":6,"minExtent":39,"maxExtent":39,
    "labelExpr":"abs(datum.value*2-round(datum.value*2))<0.001 ? (abs(datum.value)<0.001 ? '0' : format(datum.value,'.1f')) : ''",
    "gridColor":{"condition":{"test":"abs(datum.value*2-round(datum.value*2))<0.001","value":"#7a7a7a"},"value":"#e8e8e8"}}}
 },
 "layer":[
  {"data":{"name":"band","format":{"parse":{"a":"date:'%H:%M'","b":"date:'%H:%M'"}}},"mark":{"type":"rect","fill":"#f4a6a6","opacity":0.18},
   "encoding":{"x":{"field":"a","type":"temporal","scale":{"domain":[{"year":1900,"month":1,"date":1,"hours":2,"minutes":40,"seconds":47},{"year":1900,"month":1,"date":1,"hours":11,"minutes":34,"seconds":35}]}},"x2":{"field":"b"},
    "y":{"field":"lo","type":"quantitative","scale":{"domain":[-0.19,1.97],"nice":false,"zero":false}},"y2":{"field":"hi"}}},
  {"data":{"name":"thr","format":{"parse":{"a":"date:'%H:%M'","b":"date:'%H:%M'"}}},"mark":{"type":"rule","stroke":"#a52a2a","strokeWidth":1.2,"strokeDash":[4,2.5]},
   "encoding":{"x":{"field":"a","type":"temporal","scale":{"domain":[{"year":1900,"month":1,"date":1,"hours":2,"minutes":40,"seconds":47},{"year":1900,"month":1,"date":1,"hours":11,"minutes":34,"seconds":35}]}},"x2":{"field":"b"}}},
  {"data":{"name":"bl","format":{"parse":{"t":"date:'%H:%M'"}}},"mark":{"type":"point","shape":"circle","size":90,"filled":true,"fill":"#000080","stroke":"#b8b8dc","strokeWidth":1.2,"opacity":1}}
 ]
}
]
}
